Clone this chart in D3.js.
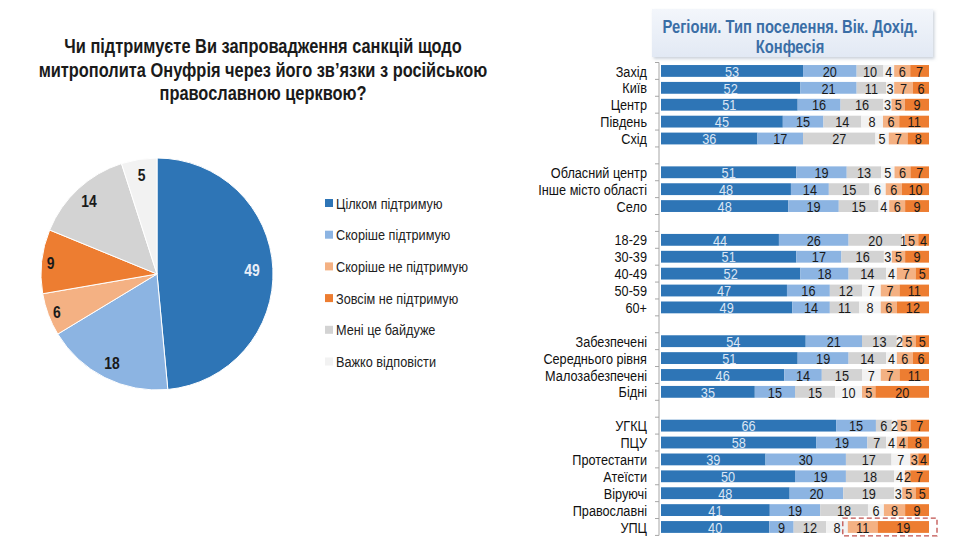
<!DOCTYPE html>
<html><head><meta charset="utf-8">
<script src="https://cdn.jsdelivr.net/npm/d3@7"></script>
<style>
html,body{margin:0;padding:0;background:#fff;}
svg{display:block;}
</style>
</head><body>
<svg id="chart" width="954" height="546"></svg>
<script>
// ---------- DATA ----------
const titleLines = ["Чи підтримуєте Ви запровадження санкцій щодо", "митрополита Онуфрія через його зв’язки з російською", "православною церквою?"];
const headerLines = ["Регіони. Тип поселення. Вік. Дохід.", "Конфесія"];
const seriesNames = ["Цілком підтримую", "Скоріше підтримую", "Скоріше не підтримую", "Зовсім не підтримую", "Мені це байдуже", "Важко відповісти"];
const pieValues = [49, 18, 6, 9, 14, 5];

const groupRegions = ["Захід", "Київ", "Центр", "Південь", "Схід"];
const groupSettlement = ["Обласний центр", "Інше місто області", "Село"];
const groupAge = ["18-29", "30-39", "40-49", "50-59", "60+"];
const groupIncome = ["Забезпечені", "Середнього рівня", "Малозабезпечені", "Бідні"];
const groupConfession = ["УГКЦ", "ПЦУ", "Протестанти", "Атеїсти", "Віруючі", "Православні", "УПЦ"];

// values per row (order: regions, settlement, age, income, confession)
const fullySupport  = [53,52,51,45,36, 51,48,48, 44,51,52,47,49, 54,51,46,35, 66,58,39,50,48,41,40];
const ratherSupport = [20,21,16,15,17, 19,14,19, 26,17,18,16,14, 21,19,14,15, 15,19,30,19,20,19,9];
const indifferent   = [10,11,16,14,27, 13,15,15, 20,16,14,12,11, 13,14,15,15, 6,7,17,18,19,18,12];
const hardToSay     = [4,3,3,8,5,     5,6,4,    1,3,4,7,8,     2,4,7,10,    2,4,7,4,3,6,8];
const ratherNot     = [6,7,5,6,7,     6,6,6,    5,5,7,7,6,     5,6,7,5,     5,4,3,2,5,8,11];
const notAtAll      = [7,6,9,11,8,    7,10,9,   4,9,5,11,12,   5,6,11,20,   7,8,4,7,5,9,19];
const highlightRow = "УПЦ";

// ---------- STYLE ----------
const C = {
  dark: "#2e75b6", light: "#8cb4e2", lorange: "#f4b183", orange: "#ed7d31",
  gray: "#d3d3d3", white: "#f2f2f2"
};
const pieColors = [C.dark, C.light, C.lorange, C.orange, C.gray, C.white];
const FONT = "'Liberation Sans',Arial,sans-serif";
const SX = 0.82; // horizontal condensation (Arial Narrow look)
const place = (xx, yy) => `translate(${xx},${yy}) scale(${SX},1)`;

const svg = d3.select("#chart");

// ---------- TITLE ----------
svg.append("g").selectAll("text").data(titleLines).join("text")
  .attr("transform", (d,i) => place(263, 53 + i*23.5))
  .attr("text-anchor", "middle")
  .style("font-family", FONT).style("font-weight", "bold").style("font-size", "20px")
  .style("fill", "#1a1a1a").text(d => d);

// ---------- PIE ----------
const cx = 157, cy = 274, R = 116;
const pie = d3.pie().sort(null).value(d => d);
const arcs = pie(pieValues);
const arc = d3.arc().innerRadius(0).outerRadius(R);
const gPie = svg.append("g").attr("transform", `translate(${cx},${cy})`);
gPie.selectAll("path").data(arcs).join("path")
  .attr("d", arc).attr("fill", (d,i) => pieColors[i])
  .attr("stroke", "#fff").attr("stroke-width", 1);
const labR = v => v >= 40 ? 95 : (v >= 6 && v < 10 ? 107 : 100);
gPie.selectAll("text").data(arcs).join("text")
  .attr("transform", d => { const a = d3.arc().innerRadius(labR(d.value)).outerRadius(labR(d.value)).centroid(d); return place(a[0], a[1]); })
  .attr("text-anchor", "middle").attr("dy", "0.36em")
  .style("font-family", FONT).style("font-weight", "bold").style("font-size", "17px")
  .style("fill", (d,i) => i === 0 ? "#e8eef8" : "#1a1a1a")
  .text(d => d.value);

// ---------- LEGEND ----------
const gLeg = svg.append("g").attr("transform", "translate(325,203)");
const legRow = gLeg.selectAll("g").data(seriesNames).join("g")
  .attr("transform", (d,i) => `translate(0,${i*31.7})`);
legRow.append("rect").attr("x", 0).attr("y", -4).attr("width", 8).attr("height", 8)
  .attr("fill", (d,i) => pieColors[i]);
legRow.append("text").attr("transform", place(11, 0)).attr("dy", "0.36em")
  .style("font-family", FONT).style("font-size", "15.5px").style("fill", "#222")
  .text(d => d);

// ---------- HEADER BOX ----------
const defs = svg.append("defs");
const grad = defs.append("linearGradient").attr("id", "hdrGrad").attr("x1", 0).attr("y1", 0).attr("x2", 0).attr("y2", 1);
grad.append("stop").attr("offset", "0%").attr("stop-color", "#f3f6fb");
grad.append("stop").attr("offset", "100%").attr("stop-color", "#e2e9f4");
const flt = defs.append("filter").attr("id", "shadow").attr("x", "-5%").attr("y", "-10%").attr("width", "115%").attr("height", "140%");
flt.append("feDropShadow").attr("dx", 1.5).attr("dy", 2).attr("stdDeviation", 1.5).attr("flood-color", "#9aa6b8").attr("flood-opacity", 0.5);
svg.append("rect").attr("x", 652).attr("y", 9).attr("width", 281).attr("height", 48)
  .attr("fill", "url(#hdrGrad)").attr("filter", "url(#shadow)");
svg.append("g").selectAll("text").data(headerLines).join("text")
  .attr("transform", (d,i) => place(790, 33 + i*19.5)).attr("text-anchor", "middle")
  .style("font-family", FONT).style("font-weight", "bold").style("font-size", "18px")
  .style("fill", "#3a6ea6").text(d => d);

// ---------- STACKED BARS ----------
const groups = [groupRegions, groupSettlement, groupAge, groupIncome, groupConfession];
const slots = [];
groups.forEach((g, gi) => { if (gi > 0) slots.push("__gap" + gi); g.forEach(l => slots.push(l)); });
const rowLabels = groups.flat();
const rows = rowLabels.map((l, i) => ({
  label: l, dark: fullySupport[i], light: ratherSupport[i], gray: indifferent[i],
  white: hardToSay[i], lorange: ratherNot[i], orange: notAtAll[i]
}));
const keys = ["dark", "light", "gray", "white", "lorange", "orange"];
const stack = d3.stack().keys(keys).offset(d3.stackOffsetExpand);
const series = stack(rows);

const y = d3.scaleBand().domain(slots).range([62.5, 62.5 + 16.89 * slots.length])
  .paddingInner(0.3).paddingOuter(0.15);
const x = d3.scaleLinear().domain([0, 1]).range([661, 929]);

// axis line + boundary ticks
const axisX = 659;
const gAx = svg.append("g");
gAx.append("line").attr("x1", axisX).attr("x2", axisX)
  .attr("y1", y.range()[0]).attr("y2", y.range()[1])
  .attr("stroke", "#a6a6a6").attr("stroke-width", 1);
const bounds = d3.range(slots.length + 1).map(k => y.range()[0] + k * y.step());
gAx.selectAll("line.tk").data(bounds).join("line").attr("class", "tk")
  .attr("x1", axisX - 4).attr("x2", axisX).attr("y1", d => d).attr("y2", d => d)
  .attr("stroke", "#a6a6a6").attr("stroke-width", 1);

// category labels
svg.append("g").selectAll("text").data(rowLabels).join("text")
  .attr("transform", d => place(647, y(d) + y.bandwidth()/2)).attr("dy", "0.36em")
  .attr("text-anchor", "end")
  .style("font-family", FONT).style("font-size", "15.5px").style("fill", "#111")
  .text(d => d);

const gBars = svg.append("g");
series.forEach(s => {
  const key = s.key;
  gBars.append("g").selectAll("rect").data(s).join("rect")
    .attr("x", d => x(d[0])).attr("width", d => x(d[1]) - x(d[0]))
    .attr("y", d => y(d.data.label)).attr("height", y.bandwidth())
    .attr("fill", C[key]);
});
series.forEach(s => {
  const key = s.key;
  gBars.append("g").selectAll("text").data(s).join("text")
    .attr("transform", d => place((x(d[0]) + x(d[1])) / 2, y(d.data.label) + y.bandwidth()/2))
    .attr("dy", "0.37em")
    .attr("text-anchor", "middle")
    .style("font-family", FONT).style("font-size", "15.5px")
    .style("fill", key === "dark" ? "#dbe6f4" : "#1a1a1a")
    .text(d => d.data[key]);
});

// highlight dashed box around "against" segments of УПЦ
const hs = series.find(s => s.key === "lorange").find(d => d.data.label === highlightRow);
svg.append("rect")
  .attr("x", x(hs[0]) - 5).attr("y", y(highlightRow) - 3)
  .attr("width", x(1) + 8 - (x(hs[0]) - 5)).attr("height", y.bandwidth() + 6)
  .attr("fill", "none").attr("stroke", "#c0504d").attr("stroke-width", 1.3)
  .attr("stroke-dasharray", "5,3");
</script>
</body></html>
